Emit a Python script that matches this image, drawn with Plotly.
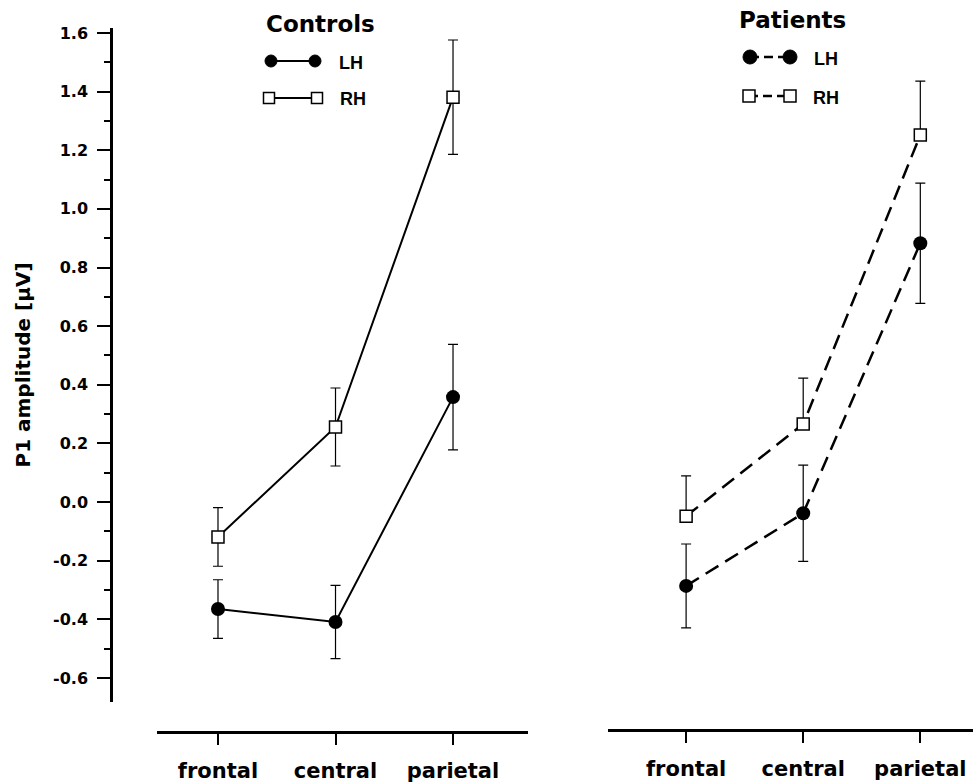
import plotly.graph_objects as go

# ---------------- data ----------------
regions = ["frontal", "central", "parietal"]

controls_lh = [-0.365, -0.409, 0.358]
controls_lh_err = [0.100, 0.125, 0.180]
controls_rh = [-0.119, 0.256, 1.381]
controls_rh_err = [0.100, 0.133, 0.195]

patients_lh = [-0.286, -0.038, 0.883]
patients_lh_err = [0.143, 0.164, 0.205]
patients_rh = [-0.048, 0.266, 1.252]
patients_rh_err_up = [0.137, 0.157, 0.184]
patients_rh_err_down = [0.0, 0.0, 0.0]

y_ticks = [-0.6, -0.4, -0.2, 0.0, 0.2, 0.4, 0.6, 0.8, 1.0, 1.2, 1.4, 1.6]
y_ticktext = [f"{v:.1f}" for v in y_ticks]
y_title = "P1 amplitude [μV]"
panel_titles = ["Controls", "Patients"]
series_names = ["LH", "RH"]

# ---------------- layout geometry ----------------
W, H = 973, 784
ML, MR, MT, MB = 111, 0, 28, 52
PW = W - ML - MR
PH = H - MT - MB
BOTTOM = H - MB


def pxx(px):
    return (px - ML) / PW


def pxy(py):
    return (BOTTOM - py) / PH


TICK_FONT = dict(family="DejaVu Sans", size=16, color="black", weight="bold")
XLAB_FONT = dict(family="DejaVu Sans", size=21, color="black", weight="bold")
ERR = dict(type="data", symmetric=False, thickness=1.2, width=5, color="black")

fig = go.Figure()

# Controls
fig.add_trace(go.Scatter(
    x=regions, y=controls_lh, name="LH", mode="lines+markers",
    line=dict(color="black", width=2),
    marker=dict(symbol="circle", size=14, color="black"),
    error_y=dict(ERR, array=controls_lh_err, arrayminus=controls_lh_err),
    xaxis="x", yaxis="y", showlegend=False))
fig.add_trace(go.Scatter(
    x=regions, y=controls_rh, name="RH", mode="lines+markers",
    line=dict(color="black", width=2),
    marker=dict(symbol="square", size=12, color="white",
                line=dict(color="black", width=1.5)),
    error_y=dict(ERR, array=controls_rh_err, arrayminus=controls_rh_err),
    xaxis="x", yaxis="y", showlegend=False))

# Patients
fig.add_trace(go.Scatter(
    x=regions, y=patients_lh, name="LH", mode="lines+markers",
    line=dict(color="black", width=2.5, dash="15px,8px"),
    marker=dict(symbol="circle", size=14, color="black"),
    error_y=dict(ERR, array=patients_lh_err, arrayminus=patients_lh_err),
    xaxis="x2", yaxis="y2", showlegend=False))
fig.add_trace(go.Scatter(
    x=regions, y=patients_rh, name="RH", mode="lines+markers",
    line=dict(color="black", width=2.5, dash="15px,8px"),
    marker=dict(symbol="square", size=12, color="white",
                line=dict(color="black", width=1.5)),
    error_y=dict(ERR, array=patients_rh_err_up, arrayminus=patients_rh_err_down),
    xaxis="x2", yaxis="y2", showlegend=False))

yrange = [-0.682, 1.617]
ydomain = [pxy(702), 1.0]

xaxis_common = dict(
    type="category", showgrid=False, zeroline=False,
    showline=True, linecolor="black", linewidth=2.5,
    ticks="outside", ticklen=11, tickwidth=2, tickcolor="black",
    tickfont=XLAB_FONT, ticklabelstandoff=8, anchor="free",
)

fig.update_layout(
    width=W, height=H,
    margin=dict(l=ML, r=MR, t=MT, b=MB, pad=0),
    paper_bgcolor="white", plot_bgcolor="white",
    showlegend=False,
    xaxis=dict(xaxis_common, domain=[pxx(157), pxx(528)], range=[-0.519, 2.638],
               position=0.0),
    xaxis2=dict(xaxis_common, domain=[pxx(608), 1.0], range=[-0.667, 2.45],
                position=pxy(730)),
    yaxis=dict(
        domain=ydomain, range=yrange, anchor="free", position=0.0,
        showgrid=False, zeroline=False,
        showline=True, linecolor="black", linewidth=2.5,
        tickmode="array", tickvals=y_ticks, ticktext=y_ticktext,
        ticks="outside", ticklen=13, tickwidth=2, tickcolor="black",
        tickfont=TICK_FONT, ticklabelstandoff=6,
        minor=dict(tickmode="linear", tick0=0, dtick=0.1, ticks="outside",
                   ticklen=6, tickwidth=2, tickcolor="black", showgrid=False),
        title=dict(text=y_title, standoff=16,
                   font=dict(family="DejaVu Sans", size=20, color="black", weight="bold")),
    ),
    yaxis2=dict(domain=ydomain, range=yrange, anchor="x2", visible=False),
)

# ---------------- custom legends (key glyphs) ----------------
shapes = []
annotations = []


def add_key(x_left, x_right, y, symbol, size, dash, label_x, label_y, label):
    shapes.append(dict(type="line", xref="paper", yref="paper",
                       x0=pxx(x_left), x1=pxx(x_right), y0=pxy(y), y1=pxy(y),
                       line=dict(color="black", width=2 if dash == "solid" else 2.5,
                                 dash=dash)))
    for xc in (x_left, x_right):
        h = size / 2
        if symbol == "circle":
            shapes.append(dict(type="circle", xref="paper", yref="paper",
                               xsizemode="pixel", ysizemode="pixel",
                               xanchor=pxx(xc), yanchor=pxy(y),
                               x0=-h, x1=h, y0=-h, y1=h,
                               fillcolor="black", line=dict(color="black", width=1)))
        else:
            shapes.append(dict(type="rect", xref="paper", yref="paper",
                               xsizemode="pixel", ysizemode="pixel",
                               xanchor=pxx(xc), yanchor=pxy(y),
                               x0=-h, x1=h, y0=-h, y1=h,
                               fillcolor="white", line=dict(color="black", width=1.5)))
    annotations.append(dict(x=pxx(label_x), y=pxy(label_y), xref="paper", yref="paper",
                            text=label, showarrow=False, xanchor="left", yanchor="middle",
                            font=dict(family="Liberation Sans", size=18, color="black",
                                      weight="bold")))


# Controls
annotations.append(dict(x=pxx(320), y=pxy(24), xref="paper", yref="paper",
                        text=panel_titles[0], showarrow=False,
                        xanchor="center", yanchor="middle",
                        font=dict(family="DejaVu Sans", size=23, color="black", weight="bold")))
add_key(271, 315, 61, "circle", 12, "solid", 337, 63, series_names[0])
add_key(269, 317, 98, "square", 11, "solid", 338, 99, series_names[1])

# Patients
annotations.append(dict(x=pxx(792), y=pxy(20), xref="paper", yref="paper",
                        text=panel_titles[1], showarrow=False,
                        xanchor="center", yanchor="middle",
                        font=dict(family="DejaVu Sans", size=23, color="black", weight="bold")))
add_key(750, 790, 57, "circle", 14, "9px,5px", 812, 59, series_names[0])
add_key(749, 790, 96, "square", 12, "9px,5px", 811, 98, series_names[1])

fig.update_layout(shapes=shapes, annotations=annotations)

fig.write_html("out.html")
